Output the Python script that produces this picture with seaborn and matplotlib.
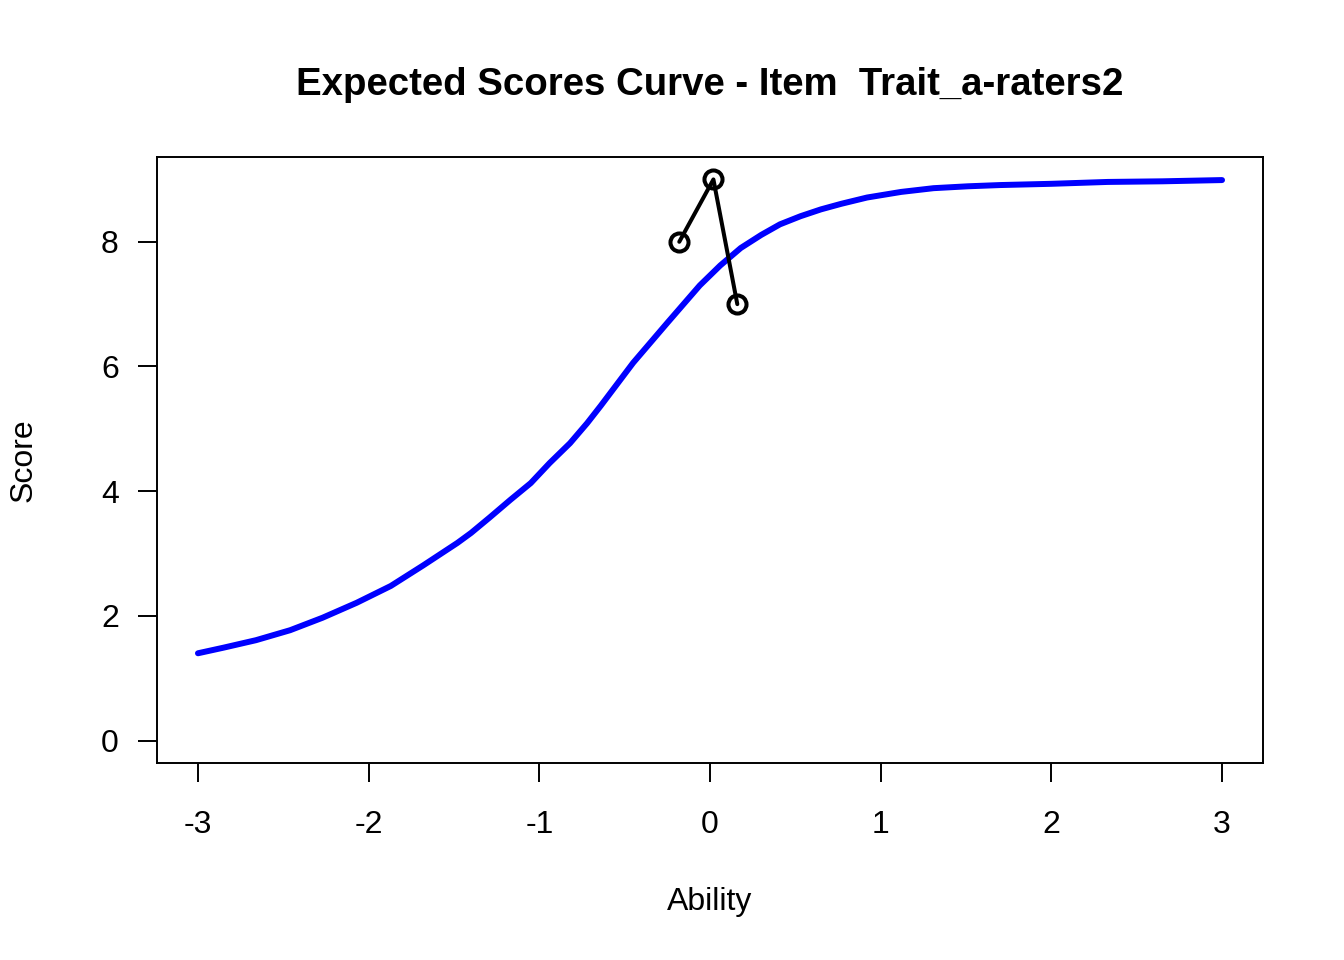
import matplotlib
matplotlib.use("Agg")
import matplotlib.pyplot as plt
import seaborn as sns
import pandas as pd

# expected score curve
ability = [-3.0, -2.85, -2.66, -2.46, -2.27, -2.07, -1.87, -1.68, -1.48, -1.40,
           -1.29, -1.17, -1.05, -0.94, -0.82, -0.72, -0.64, -0.45, -0.25, -0.06,
           0.06, 0.18, 0.30, 0.41, 0.53, 0.65, 0.77, 0.92, 1.12, 1.31,
           1.51, 1.70, 2.0, 2.33, 2.65, 3.0]
expected = [1.40, 1.49, 1.61, 1.77, 1.97, 2.21, 2.48, 2.81, 3.17, 3.33,
            3.58, 3.86, 4.13, 4.45, 4.77, 5.09, 5.37, 6.06, 6.70, 7.30,
            7.62, 7.90, 8.11, 8.28, 8.41, 8.52, 8.61, 8.71, 8.80, 8.86,
            8.89, 8.91, 8.93, 8.96, 8.97, 8.99]

# observed scores (in drawing order)
obs_ability = [-0.18, 0.02, 0.16]
obs_score = [8, 9, 7]

x_ticks = [-3, -2, -1, 0, 1, 2, 3]
y_ticks = [0, 2, 4, 6, 8]

title = "Expected Scores Curve - Item  Trait_a-raters2"

sns.set_style("white")
plt.rcParams['font.family'] = ['Liberation Sans', 'DejaVu Sans']
plt.rcParams['axes.unicode_minus'] = False

curve = pd.DataFrame({'Ability': ability, 'Score': expected})
obs = pd.DataFrame({'Ability': obs_ability, 'Score': obs_score})

fig = plt.figure(figsize=(13.44, 9.6), dpi=100)
ax = fig.add_axes([157/1344, 1 - 763/960, (1263-157)/1344, (763-157)/960])

sns.lineplot(data=curve, x='Ability', y='Score', ax=ax, color='#0000ff',
             linewidth=4.3, sort=False)
sns.lineplot(data=obs, x='Ability', y='Score', ax=ax, color='black',
             linewidth=2.9, sort=False, marker='o', markersize=13,
             markerfacecolor='none', markeredgecolor='black',
             markeredgewidth=2.9)

ax.set_xlim(-3.24, 3.24)
ax.set_ylim(-0.36, 9.36)
ax.set_xticks(x_ticks)
ax.set_yticks(y_ticks)
ax.set_xticklabels([str(t) for t in x_ticks])
ax.set_yticklabels([str(t) for t in y_ticks])
ax.tick_params(axis='both', direction='out', length=14, width=1.4,
               colors='black', labelsize=23, bottom=True, left=True)
ax.tick_params(axis='x', pad=20)
ax.tick_params(axis='y', pad=13.5)
for s in ax.spines.values():
    s.set_color('black')
    s.set_linewidth(1.4)
ax.set_xlabel('')
ax.set_ylabel('')

fig.text(710/1344, 1 - 95/960, title, ha='center', va='baseline',
         fontsize=27.6, fontweight='bold', color='black')
fig.text(710/1344, 1 - 910/960, 'Ability', ha='center', va='baseline',
         fontsize=23, color='black')
fig.text(24/1344, 1 - 460/960, 'Score', ha='center', va='center',
         rotation=90, fontsize=23, color='black')

fig.savefig('out.png', dpi=100, facecolor='white')
